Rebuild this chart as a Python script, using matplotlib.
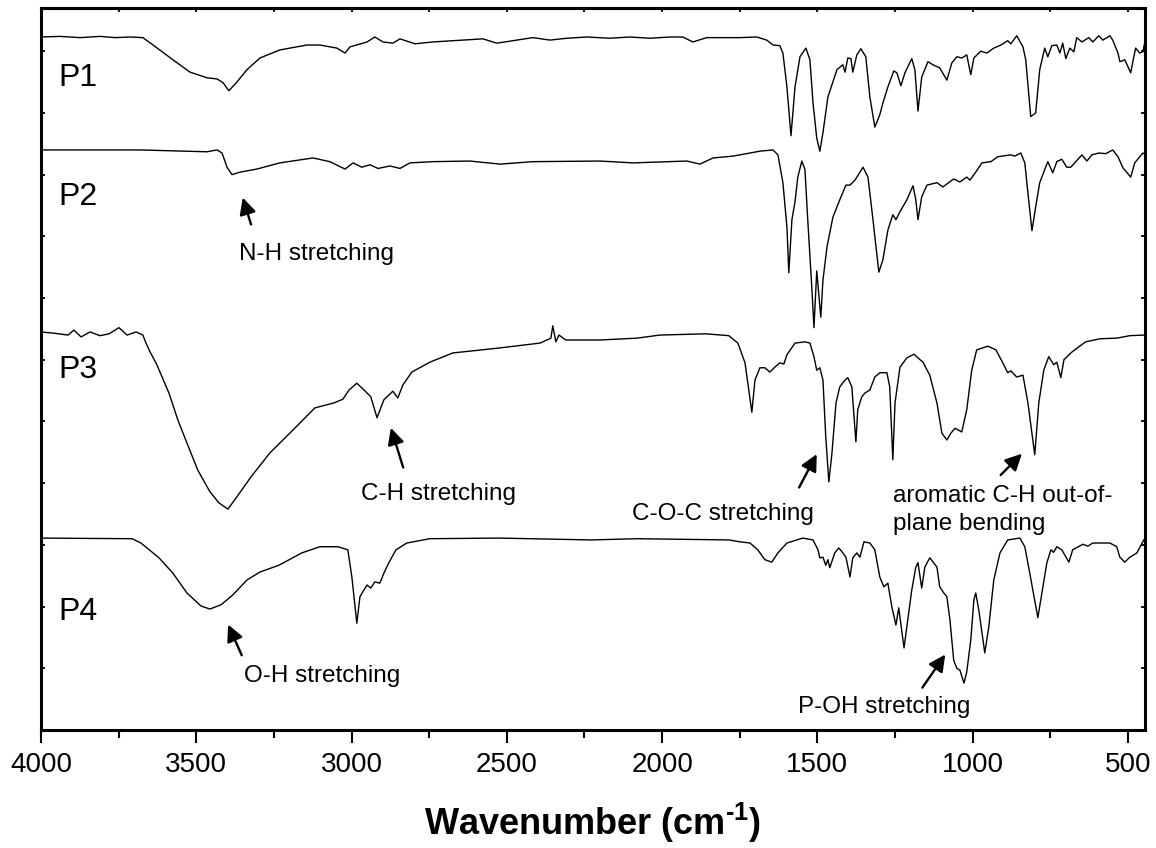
#!/usr/bin/env python3

import matplotlib
matplotlib.use('Agg')
from matplotlib import pyplot as plt
from matplotlib.ticker import MultipleLocator, NullFormatter

plt.rcParams['font.family'] = ['Liberation Sans', 'DejaVu Sans']

# FTIR spectra, transmittance in arbitrary offset units
p1_wn = [4000, 3939, 3874, 3810, 3762, 3713, 3672, 3639, 3575, 3520, 3466, 3433, 3414, 3395,
         3369, 3337, 3295, 3231, 3144, 3102, 3047, 3021, 3005, 2950, 2925, 2899, 2867, 2844,
         2796, 2738, 2577, 2532, 2416, 2361, 2306, 2242, 2168, 2104, 2039, 1975, 1933, 1901,
         1856, 1750, 1695, 1663, 1643, 1621, 1611, 1598, 1585, 1572, 1556, 1537, 1524, 1514,
         1502, 1492, 1482, 1466, 1437, 1418, 1411, 1402, 1392, 1386, 1373, 1360, 1344, 1331,
         1315, 1299, 1289, 1273, 1254, 1244, 1231, 1218, 1196, 1186, 1176, 1164, 1144, 1128,
         1106, 1083, 1067, 1051, 1035, 1019, 1006, 996, 974, 954, 932, 909, 887, 877, 858,
         838, 829, 813, 797, 784, 768, 758, 745, 729, 719, 710, 700, 687, 674, 665, 648, 626,
         613, 594, 581, 558, 549, 532, 526, 510, 491, 481, 475, 462, 452, 442]
p1_t = [112.3, 112.4, 112.2, 112.4, 112.2, 112.3, 112.2, 111.0, 108.6, 106.6, 105.7, 105.5,
        104.9, 103.6, 105.0, 107.0, 108.9, 110.2, 111.0, 111.0, 110.5, 109.7, 110.7, 111.5,
        112.3, 111.5, 111.3, 112.0, 111.2, 111.5, 112.0, 111.3, 112.2, 111.8, 112.1, 112.3,
        112.1, 112.3, 112.1, 112.3, 112.3, 111.5, 112.2, 112.2, 112.3, 111.8, 111.0, 110.9,
        109.7, 104.2, 96.3, 104.2, 109.1, 110.5, 108.6, 101.6, 95.9, 93.8, 96.8, 102.6, 107.0,
        107.8, 106.6, 108.9, 108.8, 106.6, 109.4, 110.4, 109.1, 102.6, 97.7, 99.7, 101.6,
        104.2, 106.8, 106.5, 104.4, 106.5, 108.8, 107.0, 100.3, 105.8, 108.3, 107.8, 107.3,
        105.3, 108.1, 109.1, 108.9, 109.4, 106.2, 108.9, 110.0, 109.7, 110.5, 111.0, 111.7,
        111.2, 112.5, 110.7, 108.6, 99.4, 100.0, 107.0, 110.5, 109.1, 110.9, 111.0, 109.7,
        111.3, 108.8, 110.5, 109.9, 112.2, 111.5, 112.2, 111.5, 112.5, 111.8, 112.5, 111.8,
        109.7, 108.3, 108.6, 106.5, 109.1, 110.5, 109.7, 109.9, 112.3]

p2_wn = [4000, 3681, 3466, 3433, 3417, 3401, 3385, 3359, 3305, 3231, 3124, 3070, 3021, 2995,
         2967, 2941, 2915, 2876, 2844, 2812, 2738, 2619, 2522, 2416, 2200, 2094, 1920, 1878,
         1836, 1772, 1717, 1685, 1643, 1627, 1611, 1598, 1592, 1582, 1572, 1563, 1550, 1540,
         1531, 1518, 1511, 1502, 1489, 1482, 1469, 1450, 1428, 1408, 1395, 1379, 1353, 1337,
         1321, 1302, 1289, 1273, 1257, 1247, 1234, 1212, 1192, 1183, 1176, 1164, 1147, 1115,
         1096, 1061, 1041, 1019, 1009, 990, 970, 941, 919, 877, 864, 845, 832, 822, 809, 797,
         784, 758, 742, 729, 713, 697, 684, 668, 648, 632, 616, 594, 571, 549, 532, 516, 491,
         478, 462, 452, 442]
p2_t = [94.0, 94.0, 93.7, 94.0, 93.5, 91.2, 90.0, 90.4, 90.9, 91.9, 92.7, 92.1, 90.9, 91.9,
        91.2, 91.6, 91.0, 91.4, 91.0, 91.9, 92.1, 92.2, 91.7, 92.1, 92.2, 91.9, 92.2, 91.7,
        92.7, 93.0, 93.5, 93.8, 94.0, 93.2, 88.7, 81.5, 74.1, 82.7, 85.6, 89.6, 92.2, 90.8,
        82.7, 71.8, 65.2, 74.4, 66.9, 72.9, 78.3, 83.1, 85.9, 88.3, 88.3, 89.1, 91.2, 89.6,
        82.7, 74.2, 76.2, 81.0, 83.5, 82.7, 84.0, 85.9, 88.2, 85.9, 82.7, 86.4, 88.3, 88.7,
        88.0, 89.3, 88.8, 89.6, 89.1, 90.4, 91.9, 92.1, 92.9, 93.2, 93.0, 93.5, 91.9, 87.0,
        80.9, 84.8, 88.7, 92.1, 90.3, 92.1, 92.5, 91.2, 91.2, 92.1, 93.2, 92.2, 93.2, 93.5,
        93.4, 94.0, 92.9, 91.1, 89.6, 91.9, 92.9, 93.5, 93.2]

p3_wn = [4000, 3958, 3913, 3894, 3871, 3842, 3810, 3781, 3749, 3723, 3694, 3672, 3662, 3649,
         3627, 3610, 3588, 3559, 3530, 3495, 3456, 3427, 3398, 3369, 3324, 3263, 3189, 3118,
         3057, 3028, 3008, 2983, 2960, 2938, 2918, 2896, 2867, 2851, 2835, 2806, 2748, 2674,
         2525, 2393, 2358, 2352, 2342, 2332, 2310, 2200, 2081, 2007, 1859, 1785, 1756, 1733,
         1711, 1701, 1685, 1669, 1653, 1637, 1621, 1608, 1598, 1572, 1540, 1524, 1511, 1502,
         1492, 1482, 1473, 1463, 1453, 1440, 1428, 1411, 1402, 1389, 1376, 1370, 1357, 1347,
         1331, 1315, 1299, 1276, 1267, 1257, 1250, 1234, 1212, 1189, 1176, 1160, 1138, 1115,
         1099, 1083, 1070, 1057, 1035, 1019, 1003, 987, 951, 925, 903, 887, 877, 858, 838,
         822, 800, 787, 771, 755, 739, 729, 716, 706, 684, 658, 636, 590, 536, 494, 449]
p3_t = [64.5, 64.3, 64.0, 64.8, 63.7, 64.5, 63.9, 64.2, 65.2, 64.0, 64.5, 64.0, 62.7, 61.3,
        59.2, 57.2, 54.6, 50.2, 46.5, 42.1, 38.6, 36.8, 35.8, 37.8, 41.0, 44.9, 48.6, 52.2,
        53.0, 53.6, 55.1, 56.2, 55.1, 54.0, 50.6, 53.5, 54.9, 53.8, 55.9, 58.0, 59.6, 61.1,
        61.9, 62.7, 63.5, 65.5, 62.9, 64.0, 63.2, 63.2, 63.5, 64.0, 64.2, 63.9, 62.7, 59.5,
        51.5, 56.7, 58.7, 58.7, 58.0, 58.8, 59.5, 59.3, 60.8, 62.7, 62.9, 62.7, 60.5, 58.3,
        58.7, 56.7, 47.5, 40.2, 44.9, 53.0, 55.6, 56.7, 57.1, 55.6, 46.7, 51.9, 54.0, 54.6,
        55.1, 57.2, 57.9, 57.9, 55.6, 43.8, 53.0, 58.8, 60.3, 60.9, 60.3, 59.6, 57.5, 53.0,
        48.1, 47.0, 48.1, 48.9, 48.3, 51.9, 58.3, 61.6, 62.2, 61.6, 59.5, 57.9, 58.2, 57.2,
        57.5, 53.0, 44.6, 53.0, 58.3, 60.5, 59.2, 59.6, 57.1, 60.0, 61.1, 62.1, 62.9, 63.4,
        63.5, 63.9, 64.0]

p4_wn = [4000, 3707, 3678, 3620, 3575, 3530, 3485, 3456, 3420, 3382, 3337, 3295, 3234, 3160,
         3102, 3044, 3012, 2999, 2983, 2973, 2960, 2950, 2938, 2925, 2909, 2896, 2880, 2857,
         2822, 2748, 2525, 2229, 2081, 1785, 1750, 1717, 1692, 1669, 1647, 1627, 1598, 1579,
         1547, 1514, 1498, 1492, 1482, 1473, 1466, 1460, 1444, 1431, 1418, 1408, 1395, 1386,
         1373, 1363, 1350, 1331, 1315, 1299, 1286, 1273, 1260, 1247, 1238, 1221, 1209, 1196,
         1183, 1176, 1164, 1154, 1138, 1115, 1106, 1093, 1083, 1073, 1061, 1051, 1041, 1028,
         1019, 1006, 996, 990, 980, 961, 948, 932, 912, 887, 848, 832, 816, 790, 777, 761,
         748, 739, 729, 713, 690, 678, 645, 629, 613, 558, 536, 526, 510, 494, 471, 449, 442]
p4_t = [31.1, 31.0, 30.3, 27.9, 25.4, 22.2, 20.1, 19.6, 20.3, 21.9, 24.3, 25.6, 26.7, 28.7,
        29.7, 29.7, 29.2, 24.8, 17.3, 21.6, 22.7, 23.5, 23.0, 24.0, 23.8, 25.4, 27.1, 29.2,
        30.3, 31.0, 31.1, 30.8, 31.0, 30.8, 30.5, 30.3, 29.2, 27.6, 27.2, 28.7, 30.3, 30.6,
        31.1, 30.8, 29.2, 27.9, 28.0, 26.7, 27.6, 26.3, 28.7, 29.5, 28.7, 28.0, 24.8, 27.9,
        28.7, 28.0, 30.5, 30.3, 29.2, 24.8, 23.2, 23.8, 19.9, 17.0, 19.8, 13.3, 17.8, 22.7,
        26.4, 27.1, 23.0, 26.4, 27.9, 26.4, 23.2, 22.2, 21.6, 17.8, 11.3, 10.0, 9.7, 7.6,
        9.4, 14.6, 21.1, 22.2, 19.4, 12.5, 16.7, 24.3, 28.7, 30.8, 31.1, 29.7, 25.4, 18.2,
        22.2, 27.1, 29.2, 28.8, 29.7, 29.2, 27.2, 29.2, 30.1, 29.8, 30.3, 30.3, 29.7, 28.0,
        27.2, 28.0, 28.7, 30.8, 31.1]

sample_names = ["P1", "P2", "P3", "P4"]
name_x = 3945
name_y = [104.4, 85.1, 57.1, 17.8]

# (text, baseline of last line, arrow head, arrow tail)
notes = [
    ("N-H stretching", (3362, 76.2), (3353, 86.7), (3321, 81.5)),
    ("C-H stretching", (2970, 37.3), (2876, 49.4), (2831, 42.1)),
    ("C-O-C stretching", (2097, 34.0), (1498, 45.1), (1563, 38.9)),
    ("aromatic C-H out-of-\nplane bending", (1257, 32.4), (835, 45.1), (916, 41.0)),
    ("O-H stretching", (3346, 7.8), (3401, 17.5), (3350, 11.7)),
    ("P-OH stretching", (1563, 2.8), (1083, 12.6), (1167, 6.5)),
]


def main():
    fig = plt.figure(figsize=(11.56, 8.48), dpi=100)
    ax = fig.add_axes([41 / 1156, 1 - 730 / 848, 1104 / 1156, 722 / 848])

    for wn, t in [(p1_wn, p1_t), (p2_wn, p2_t), (p3_wn, p3_t), (p4_wn, p4_t)]:
        ax.plot(wn, t, color='black', lw=1.0)

    for name, y in zip(sample_names, name_y):
        ax.text(name_x, y, name, fontsize=23, va='baseline', ha='left')

    for text, pos, head, tail in notes:
        ax.text(pos[0], pos[1], text, fontsize=17.5, va='baseline', ha='left', linespacing=1.37)
        ax.annotate("", xy=head, xytext=tail,
                    arrowprops=dict(arrowstyle='-|>', color='black', lw=1.7, mutation_scale=25))

    ax.set_xlim(4000, 445)
    ax.set_ylim(0, 117)

    ax.xaxis.set_major_locator(MultipleLocator(500))
    ax.xaxis.set_minor_locator(MultipleLocator(250))
    ax.yaxis.set_major_locator(MultipleLocator(10))
    ax.yaxis.set_major_formatter(NullFormatter())
    ax.tick_params(axis='x', which='major', direction='out', length=9.5, width=1.5,
                   labelsize=20, pad=6, top=False)
    ax.tick_params(axis='x', which='minor', direction='out', length=6, width=1.5, top=False)
    ax.tick_params(axis='y', which='major', direction='in', length=3, width=1.3,
                   left=True, right=True)

    top = ax.secondary_xaxis('top')
    top.xaxis.set_major_locator(MultipleLocator(250))
    top.tick_params(direction='in', length=3, width=1.3, labeltop=False)

    for side in ax.spines.values():
        side.set_linewidth(2.2)
    top.spines['top'].set_linewidth(2.2)

    ax.set_xlabel("Wavenumber (cm$^{\\mathregular{\u20101}}$)", fontsize=26, fontweight='bold',
                  labelpad=17)

    plt.savefig("out.png", dpi=100)


if __name__ == '__main__':
    main()
